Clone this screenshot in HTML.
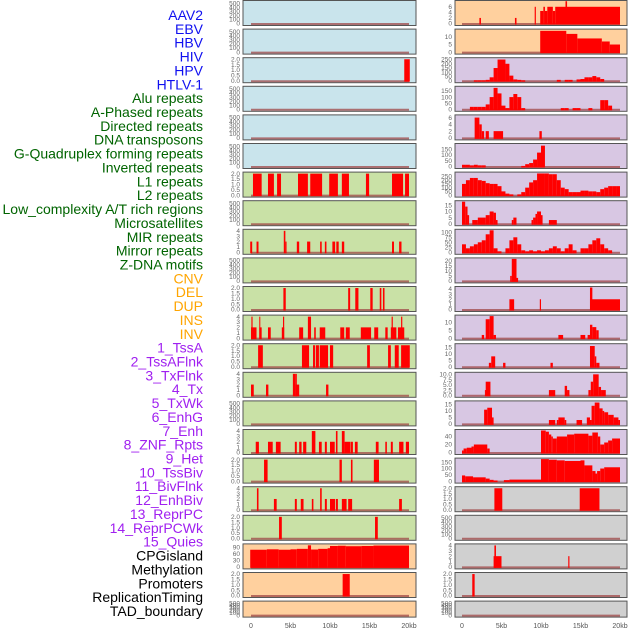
<!DOCTYPE html>
<html><head><meta charset="utf-8"><style>
html,body{margin:0;padding:0;background:#fff;}
svg{display:block;font-family:"Liberation Sans",sans-serif;}
</style></head><body>
<svg id="chart" width="630" height="630" viewBox="0 0 630 630" xmlns="http://www.w3.org/2000/svg"></svg>
<script>
const trackLabels = ["AAV2","EBV","HBV","HIV","HPV","HTLV-1","Alu repeats","A-Phased repeats","Directed repeats","DNA transposons","G-Quadruplex forming repeats","Inverted repeats","L1 repeats","L2 repeats","Low_complexity A/T rich regions","Microsatellites","MIR repeats","Mirror repeats","Z-DNA motifs","CNV","DEL","DUP","INS","INV","1_TssA","2_TssAFlnk","3_TxFlnk","4_Tx","5_TxWk","6_EnhG","7_Enh","8_ZNF_Rpts","9_Het","10_TssBiv","11_BivFlnk","12_EnhBiv","13_ReprPC","14_ReprPCWk","15_Quies","CPGisland","Methylation","Promoters","ReplicationTiming","TAD_boundary"];
const labelGroups = [6,13,5,15,5];
const groupColors = ["#1010f0","#006400","#ffa500","#a020f0","#000000"];
const xTickValues = [0,5,10,15,20];
const xTickLabels = ["0","5kb","10kb","15kb","20kb"];

const E = [0,100,200,300,400,500];
const T2 = [0,0.5,1,1.5,2];
const T4 = [0,1,2,3,4];
const leftBg = ["#c9e4ec","#c9e4ec","#c9e4ec","#c9e4ec","#c9e4ec","#c9e4ec","#c9e1a6","#c9e1a6","#c9e1a6","#c9e1a6","#c9e1a6","#c9e1a6","#c9e1a6","#c9e1a6","#c9e1a6","#c9e1a6","#c9e1a6","#c9e1a6","#c9e1a6","#ffd09e","#ffd09e","#ffd09e"];
const rightBg = ["#ffd09e","#ffd09e","#d8c7e3","#d8c7e3","#d8c7e3","#d8c7e3","#d8c7e3","#d8c7e3","#d8c7e3","#d8c7e3","#d8c7e3","#d8c7e3","#d8c7e3","#d8c7e3","#d8c7e3","#d8c7e3","#d8c7e3","#d0d0d0","#d0d0d0","#d0d0d0","#d0d0d0","#d0d0d0"];
const leftTicks = [E,E,T2,E,E,E,T2,E,T4,E,T2,T4,T2,T4,E,T4,T2,T4,T2,[0,30,60,90],T2,E];
const leftMax = [540,540,2.05,540,540,540,2.05,540,4.1,540,2.05,4.1,2.05,4.1,540,4.1,2.05,4.1,2.05,100,2.05,540];
const rightTicks = [[0,2,4,6],[0,5,10],[0,50,100,150,200,250],[0,50,100,150],[0,2,4,6],[0,50,100,150],[0,50,100,150,200,250],[0,5,10,15],[0,25,50,75,100],[0,5,10,15,20],T4,[0,5,10],[0,5,10,15],[0,2.5,5,7.5,10],[0,5,10,15],[0,20,40],[0,50,100,150],T2,E,T4,T2,E];
const rightMax = [7.9,14.5,260,180,6.5,190,295,18,110,22,4.3,14,17,10.5,17,55,175,2.05,540,4.1,2.05,540];

const leftSegs = [
 [],[],
 [[19.4,20.1,2]],
 [],[],[],
 [[0.25,1.35,2],[2.15,2.9,2],[3.3,3.8,2],[5.95,7.2,2],[7.5,9.0,2],[9.9,11.0,2],[11.5,12.4,2],[14.55,14.95,2],[17.85,19.25,2],[19.5,20,2]],
 [],
 [[-0.1,0.15,2],[0.7,0.95,2],[4.15,4.35,4],[4.35,4.5,2],[5.8,6.1,2],[7.1,7.5,2],[8.75,8.95,2],[9.35,9.55,2],[10.3,10.65,2],[10.8,11.1,2],[11.5,11.8,2],[17.85,18.1,2],[18.75,19.05,2]],
 [],
 [[4.1,4.4,2],[12.3,12.55,2],[13.2,13.6,2],[15.1,15.4,2],[16.3,16.5,2],[16.7,16.9,2]],
 [[0,0.7,2],[0.05,0.2,4],[1.05,1.35,2],[1.05,1.15,4],[2.15,2.5,2],[3.9,4.2,2],[4.05,4.2,4],[6.1,6.6,2],[7.2,7.6,4],[8.0,8.2,2],[8.7,9.4,2],[11.3,11.8,2],[12.0,12.5,2],[13.9,15.2,2],[15.6,16.1,2],[17.0,17.3,2],[17.7,18.4,2],[17.8,17.95,4],[18.6,19.4,2],[19.0,19.15,4]],
 [[0.9,1.5,2],[6.45,7.35,2],[7.85,8.1,2],[8.2,8.6,2],[8.7,9.75,2],[10.0,10.4,2],[14.7,15.05,2],[17.35,17.7,2],[18.2,18.7,2],[19.0,20.1,2]],
 [[0,0.35,2],[1.9,2.2,2],[5.3,5.6,4],[5.6,6.1,2],[5.6,5.8,4],[9.5,9.8,2]],
 [],
 [[0.6,1.0,2],[2.15,2.75,2],[3.15,3.75,2],[5.55,5.8,2],[6.1,6.4,2],[6.6,7.0,2],[7.7,8.15,4],[8.6,8.95,2],[9.35,9.6,2],[10.0,10.6,2],[10.75,10.95,4],[11.5,11.85,4],[11.85,12.6,2],[12.65,12.9,2],[13.15,13.5,2],[15.8,16.15,2],[17.0,17.2,2],[17.7,17.95,2],[18.75,19.3,2],[19.6,20.0,2]],
 [[1.65,2.1,2],[11.2,11.5,2],[12.65,12.85,2],[15.55,16.2,2]],
 [[0.75,0.95,4],[2.9,3.25,2],[5.55,5.8,2],[6.3,6.65,2],[7.7,7.9,2],[8.75,8.95,4],[9.35,9.6,2],[10.0,10.65,2],[10.75,11.0,2],[11.5,12.1,2],[12.3,12.8,2],[18.75,19.1,2]],
 [[3.55,3.9,2],[15.7,16.05,2]],
 [[-0.1,2,78],[2,3.5,80],[3.5,5,78],[5,5.8,80],[5.8,7.2,82],[7.2,7.6,98],[7.6,8.5,79],[8.5,9.7,82],[9.7,10,85],[10,11,95],[11,12,96],[12,14,94],[14,15.5,95],[15.5,20,97]],
 [[11.6,12.5,2]],
 []
];

const r2Bins = [0,0,0,5,5,5,10,40,150,250,250,200,60,15,10,5,0,0,0,0,0,0,0,0,10,0,10,10,0,15,20,40,40,55,40,20,0,0,0,0];
const r3Bins = [0,0,20,20,20,20,40,100,175,130,30,10,100,125,100,10,0,0,0,0,0,0,0,0,0,10,10,0,10,10,0,0,10,0,0,75,75,30,0,0];
const r5Bins = [15,15,10,15,10,10,0,0,0,0,0,0,0,0,0,5,20,30,60,120,180,0,0,0,0,0,0,0,0,0,0,0,0,0,0,0,0,0,0,0];
const r6Bins = [150,200,230,230,200,190,160,150,150,120,50,20,10,0,10,40,100,170,200,290,290,290,280,280,200,100,80,40,40,40,60,60,50,50,40,80,100,120,120,120];
const r8Bins = [40,20,30,40,50,60,90,110,20,5,0,20,60,75,40,10,5,10,5,10,5,10,20,30,20,5,20,40,10,0,20,20,40,60,70,40,20,10,0,0];
const rightBins = {2:r2Bins,3:r3Bins,5:r5Bins,6:r6Bins,8:r8Bins};

const rightSegs = [
 [[2.2,2.4,2],[6.7,6.9,2],[9.2,9.35,6],[9.9,10.3,4.5],[10.3,10.5,6],[10.5,10.8,4.5],[10.8,11.5,6],[11.5,11.8,4.5],[11.8,20,6],[13.1,13.3,8]],
 [[9.9,13.2,14],[13.2,14.6,12],[14.6,17.7,9],[17.7,18.7,7],[18.7,20,5]],
 [],[],
 [[1.6,2.2,6],[2.2,2.5,4],[2.5,2.8,2],[3.0,3.4,2],[4.0,5.2,2],[9.8,10.1,2]],
 [],[],
 [[0,0.4,18],[0.4,0.7,14],[0.7,0.9,7],[1.3,2,3],[2,3,5],[3,3.5,7],[3.5,4,10],[4,4.3,9],[4.3,4.5,3],[6.3,6.5,3],[6.5,6.9,5],[8.8,9.0,3],[9.0,9.3,5],[9.3,9.5,8],[9.5,10,10],[10,10.2,7],[11,12,3]],
 [],
 [[6.1,6.3,5],[6.3,6.9,22],[6.9,7.1,3]],
 [[6.0,6.6,2],[9.85,10.0,2],[16.2,16.5,4.3],[16.2,20,2]],
 [[2.5,2.8,2],[3.0,3.5,12],[3.5,4.0,14],[4.0,4.3,2],[12.2,12.8,2],[15.0,15.6,2],[15.9,16.2,2],[16.2,16.5,8.5],[16.5,17.0,7],[17.0,17.3,5]],
 [[3.4,3.7,3],[3.7,4.2,8],[5.2,5.5,3],[11.2,11.5,3],[16.2,16.8,16],[16.8,17.0,8],[17.0,17.4,3]],
 [[2.9,3.0,2.5],[3.0,3.6,6.5],[11.0,11.8,2.5],[13.0,13.3,4.5],[13.3,13.6,2.5],[16.0,16.3,2.5],[16.3,16.6,6.5],[16.6,17.3,10],[17.3,17.6,4],[17.6,18.2,2.5]],
 [[2.8,3.2,11],[3.2,3.8,12.5],[3.8,4.0,5],[11.0,11.8,3],[12.0,12.2,3],[12.2,13.0,5],[13.0,13.2,3],[14.5,15.2,3],[15.8,16.2,5],[16.2,16.4,3],[16.4,16.8,14],[16.8,17.4,16.5],[17.4,17.8,12],[17.8,18.0,10],[18.0,18.5,9],[18.5,19.2,7],[19.2,19.8,5],[19.8,20,3]],
 [[0,0.2,5],[0.2,0.6,10],[0.6,1.2,12],[1.2,1.5,15],[1.5,3.2,20],[3.2,3.5,10],[10,10.6,55],[10.6,11,52],[11,11.3,45],[11.3,11.5,40],[11.5,12,35],[12,13.3,40],[13.3,14.2,45],[14.2,16,47],[16,16.5,42],[16.5,17.2,50],[17.2,17.5,40],[17.5,18,20],[18,18.5,25],[18.5,19,30],[19,20,35]],
 [[0,0.4,45],[0.4,1.4,38],[1.4,3,30],[3,3.5,20],[3.5,4,10],[4,4.5,5],[5.3,6,8],[6,10,12],[10,11,175],[11,12,170],[12,13,165],[13,15,160],[15,15.5,165],[15.5,16.5,125],[16.5,16.9,80],[16.9,17.1,60],[17.1,17.5,80],[17.5,18,100],[18,20,110]],
 [[4.1,5.1,2],[14.9,17.4,2]],
 [],
 [[4.0,5.0,2],[4.1,4.3,4],[13.45,13.6,2]],
 [[1.3,1.6,2]],
 []
];

const NS = "http://www.w3.org/2000/svg";
const svg = document.getElementById("chart");
function mk(tag, attrs, parent){
  const e = document.createElementNS(NS, tag);
  for (const k in attrs) e.setAttribute(k, attrs[k]);
  (parent||svg).appendChild(e);
  return e;
}
const rowPitch = 28.6;
const cols = [{x0:243,w:173,z:251},{x0:455,w:172,z:462}];
const kbPx = 7.9;
function xScale(c, kb){ return cols[c].z + kb*kbPx; }
function rowTop(i){ return 0.5 + i*rowPitch; }
function rowH(i){ return i===21 ? 16 : 25; }
function yScale(i, v, max){ const t=rowTop(i), h=rowH(i); return t + h - 2 - (v/max)*(h-3); }

let li = 0;
labelGroups.forEach((n, g) => {
  for (let k=0;k<n;k++){
    const t = mk("text",{x:203,y:15+li*13.86+5,"text-anchor":"end","font-size":"14",fill:groupColors[g]});
    t.textContent = trackLabels[li];
    
    
    li++;
  }
});

function drawPanel(c, i, bg, ticks, max, segs, bins){
  const g = mk("g",{});
  
  
  const t=rowTop(i), h=rowH(i);
  const box = mk("rect",{x:cols[c].x0,y:t,width:cols[c].w,height:h,fill:bg,stroke:"#555","stroke-width":1},g);
  
  
  const base = mk("line",{x1:xScale(c,0),x2:xScale(c,20),y1:yScale(i,0,max)+0.5,y2:yScale(i,0,max)+0.5,stroke:"#a04848","stroke-width":2,opacity:0.75},g);
  
  
  const all = segs.slice();
  if (bins) bins.forEach((v,k)=>{ if (v>0) all.push([k*0.5,k*0.5+0.5,v]); });
  all.forEach(s=>{
    const x1=xScale(c,s[0]), x2=xScale(c,s[1]);
    const y=yScale(i,Math.min(s[2],max*1.02),max), y0=yScale(i,0,max);
    const r = mk("rect",{x:x1,y:y,width:Math.max(1,x2-x1),height:Math.max(0,y0-y+1),fill:"#ff0000"},g);
    
    
  });
  const dec = ticks.some(v=>v%1!==0);
  ticks.forEach(v=>{
    const tx = mk("text",{x:cols[c].x0-3,y:yScale(i,v,max)+2.2,"text-anchor":"end","font-size":"6.5",fill:"#666"},g);
    tx.textContent = dec ? v.toFixed(1) : String(v);
    
    
  });
}
for (let i=0;i<22;i++){
  drawPanel(0,i,leftBg[i],leftTicks[i],leftMax[i],leftSegs[i],null);
  drawPanel(1,i,rightBg[i],rightTicks[i],rightMax[i],rightSegs[i],rightBins[i]||null);
}
[0,1].forEach(c=>{
  xTickValues.forEach((v,k)=>{
    const tx = mk("text",{x:xScale(c,v),y:628,"text-anchor":"middle","font-size":"7",fill:"#555"});
    tx.textContent = xTickLabels[k];
    
    
  });
});
</script>
</body></html>
